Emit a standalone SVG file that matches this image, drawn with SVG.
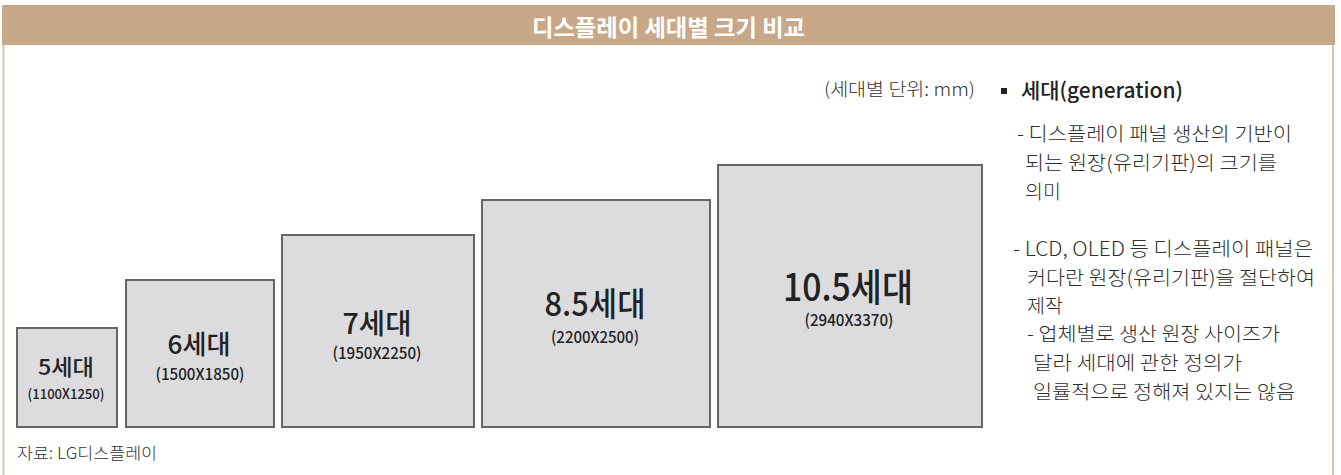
<svg xmlns="http://www.w3.org/2000/svg" width="1341" height="475" viewBox="0 0 1341 475">
<style>
.frame{stroke:#dcc6b0;stroke-width:2;fill:none}
.box{fill:#dcdcde;stroke:#666;stroke-width:2}
.lbl{font-family:"Noto Sans CJK KR","Noto Sans",sans-serif;font-weight:500;fill:#222;text-anchor:middle}
.sub{font-family:"Noto Sans CJK KR","Noto Sans",sans-serif;font-weight:500;fill:#222;text-anchor:middle}
.note{font-family:"Noto Sans CJK KR","Noto Sans",sans-serif;font-weight:300;fill:#2e2e2e;font-size:19.5px}
</style>
<rect x="0" y="0" width="1341" height="475" fill="#ffffff"/>
<g id="frame">
<rect x="2" y="5" width="1333" height="40" fill="#c8a888"/>
<line class="frame" x1="3.5" y1="45" x2="3.5" y2="475"/>
<line class="frame" x1="1333" y1="45" x2="1333" y2="475"/>
<text x="668.5" y="36" font-family="'Noto Sans CJK KR','Noto Sans',sans-serif" font-weight="700" font-size="23" fill="#ffffff" text-anchor="middle" textLength="273" lengthAdjust="spacingAndGlyphs">디스플레이 세대별 크기 비교</text>
</g>
<g id="gen5">
<rect class="box" x="17" y="328" width="100" height="99"/>
<text class="lbl" x="66" y="375" font-size="22" textLength="56" lengthAdjust="spacingAndGlyphs">5세대</text>
<text class="sub" x="66" y="399" font-size="14" textLength="77" lengthAdjust="spacingAndGlyphs">(1100X1250)</text>
</g>
<g id="gen6">
<rect class="box" x="126" y="280" width="148" height="147"/>
<text class="lbl" x="199" y="354" font-size="26" textLength="63" lengthAdjust="spacingAndGlyphs">6세대</text>
<text class="sub" x="200" y="380" font-size="16" textLength="89" lengthAdjust="spacingAndGlyphs">(1500X1850)</text>
</g>
<g id="gen7">
<rect class="box" x="282" y="235" width="192" height="192"/>
<text class="lbl" x="377" y="334" font-size="28" textLength="69" lengthAdjust="spacingAndGlyphs">7세대</text>
<text class="sub" x="377" y="359" font-size="16" textLength="89" lengthAdjust="spacingAndGlyphs">(1950X2250)</text>
</g>
<g id="gen85">
<rect class="box" x="482" y="200" width="228" height="227"/>
<text class="lbl" x="595" y="316" font-size="33" textLength="101" lengthAdjust="spacingAndGlyphs">8.5세대</text>
<text class="sub" x="595" y="343" font-size="16" textLength="88" lengthAdjust="spacingAndGlyphs">(2200X2500)</text>
</g>
<g id="gen105">
<rect class="box" x="718" y="165" width="264" height="262"/>
<text class="lbl" x="848" y="301" font-size="38" textLength="130" lengthAdjust="spacingAndGlyphs">10.5세대</text>
<text class="sub" x="849" y="326" font-size="16" textLength="89" lengthAdjust="spacingAndGlyphs">(2940X3370)</text>
</g>
<g id="notes">
<text x="975" y="96" font-family="'Noto Sans CJK KR','Noto Sans',sans-serif" font-weight="300" font-size="18" fill="#333" text-anchor="end" textLength="151" lengthAdjust="spacingAndGlyphs">(세대별 단위: mm)</text>
<rect x="1001" y="88" width="6" height="6" fill="#222"/>
<text x="1021" y="98" font-family="'Noto Sans CJK KR','Noto Sans',sans-serif" font-weight="500" font-size="21" fill="#222" textLength="162" lengthAdjust="spacingAndGlyphs">세대(generation)</text>
<text class="note" x="1017" y="141" textLength="275" lengthAdjust="spacingAndGlyphs">- 디스플레이 패널 생산의 기반이</text>
<text class="note" x="1025" y="170" textLength="252" lengthAdjust="spacingAndGlyphs">되는 원장(유리기판)의 크기를</text>
<text class="note" x="1025" y="199">의미</text>
<text class="note" x="1013" y="256" textLength="300" lengthAdjust="spacingAndGlyphs">- LCD, OLED 등 디스플레이 패널은</text>
<text class="note" x="1027" y="285" textLength="288" lengthAdjust="spacingAndGlyphs">커다란 원장(유리기판)을 절단하여</text>
<text class="note" x="1027" y="313">제작</text>
<text class="note" x="1027" y="341" textLength="253" lengthAdjust="spacingAndGlyphs">- 업체별로 생산 원장 사이즈가</text>
<text class="note" x="1033" y="370" textLength="209" lengthAdjust="spacingAndGlyphs">달라 세대에 관한 정의가</text>
<text class="note" x="1033" y="399" textLength="262" lengthAdjust="spacingAndGlyphs">일률적으로 정해져 있지는 않음</text>
</g>
<g id="source">
<text x="17" y="459" font-family="'Noto Sans CJK KR','Noto Sans',sans-serif" font-weight="300" font-size="16" fill="#333" textLength="140" lengthAdjust="spacingAndGlyphs">자료:  LG디스플레이</text>
</g>
<g id="connectors"></g>
</svg>
